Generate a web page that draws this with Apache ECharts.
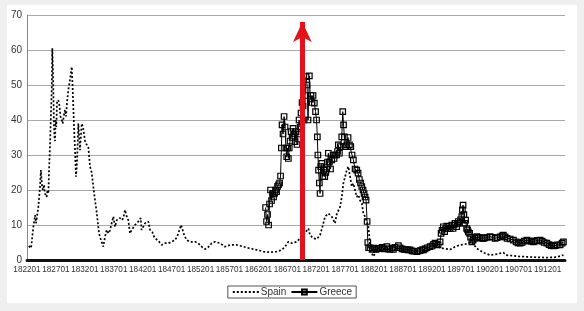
<!DOCTYPE html>
<html>
<head>
<meta charset="utf-8">
<script src="https://cdn.jsdelivr.net/npm/echarts@6/dist/echarts.min.js"></script>
<style>
html,body{margin:0;padding:0;background:#efefef;width:584px;height:311px;overflow:hidden;}
#panel{position:absolute;left:7px;top:5px;width:570px;height:298px;background:#fff;}
#chart{position:absolute;left:0;top:0;width:584px;height:311px;}
</style>
</head>
<body>
<div id="panel"></div>
<div id="chart"></div>
<script>
// ---- data ----
const startYear = 1822;
const endYear = 1915;
const tickYears = 5;

const spainYears = [1822.3,1822.7,1823.1,1823.4,1823.55,1823.7,1823.95,1824.25,1824.4,1824.6,1824.75,1824.95,1825.1,1825.4,1825.55,1825.7,1825.8,1826.0,1826.15,1826.27,1826.37,1826.5,1826.58,1826.67,1826.75,1826.84,1826.96,1827.07,1827.19,1827.41,1827.62,1827.79,1828.0,1828.17,1828.4,1828.57,1828.74,1828.92,1829.14,1829.43,1829.73,1829.87,1830.0,1830.16,1830.3,1830.47,1830.65,1830.87,1830.99,1831.16,1831.34,1831.46,1831.68,1832.03,1832.29,1832.6,1832.89,1833.19,1833.46,1833.76,1834.02,1834.22,1834.45,1834.79,1834.97,1835.19,1835.49,1835.78,1836.09,1836.35,1836.64,1836.92,1837.22,1837.51,1837.79,1838.08,1838.43,1838.65,1838.94,1839.08,1839.24,1839.51,1839.81,1840.1,1840.38,1840.67,1840.97,1841.24,1841.66,1841.8,1842.11,1842.4,1842.7,1842.97,1843.27,1843.66,1843.87,1844.13,1844.43,1844.7,1845.0,1845.29,1845.57,1845.86,1846.43,1847.02,1847.59,1847.88,1848.16,1848.42,1848.63,1848.89,1849.2,1849.61,1850.18,1851.05,1851.57,1852.21,1852.78,1853.29,1853.93,1854.51,1855.37,1856.23,1857.1,1858.26,1859.4,1860.56,1861.72,1862.86,1864.01,1865.17,1866.04,1866.61,1867.18,1867.77,1868.63,1869.2,1869.77,1870.07,1870.64,1870.93,1871.5,1872.09,1872.66,1873.23,1873.52,1874.09,1874.39,1874.68,1874.96,1875.25,1875.51,1875.82,1876.12,1876.41,1876.69,1876.98,1877.28,1877.55,1877.85,1878.14,1878.42,1878.71,1879.0,1879.28,1879.58,1879.87,1880.15,1880.44,1880.73,1881.01,1881.18,1881.3,1881.6,1881.87,1882.17,1882.46,1882.74,1883.55,1884.76,1886.49,1888.22,1889.95,1891.68,1892.84,1893.98,1895.14,1896.0,1896.87,1897.73,1898.89,1899.75,1900.9,1902.05,1903.21,1904.35,1904.82,1907.24,1909.54,1911.86,1913.46,1914.73];
const spainValues = [4.0,3.4,9.5,12.8,10.5,12,15,21,25.7,21,20,21.5,19,18,20,19,25,34,42,48.6,60.5,54,46,38,35,34,40,38,45,45.7,44,41,40,39,41.5,42.9,41,45,48.6,51.4,55.2,50,43.8,37,31.4,23.8,28,39,36,31.4,36,39,38,34,33,32.4,26.7,25,21,17,14,11,7.6,5.7,6,3.8,6.7,8.6,7.6,8.5,10.5,12.4,9.5,11.4,11,12,11.4,12,14.3,14.8,12.4,11.4,7.6,8.6,9,10,10.5,11,12,8.6,9.5,10.5,10,11,8.6,8,7,6.2,5.7,5.5,5,4.3,4.6,4.8,4.8,5.2,5.7,6.5,7.6,9,10,9.5,7,5.7,5.2,5.2,4.8,3.8,3.1,3.6,4.8,5.2,4.8,3.8,4.3,4.3,3.8,3.3,2.9,2.4,2.2,2.4,2.9,3.8,5.2,4.8,5.2,6.2,7.1,7.6,9,7.1,6.2,6,7.1,10.5,12.4,13.3,13.8,12.4,12.9,10.5,12.9,12.9,15.2,18,21.9,21.9,25.7,26.7,23.8,21,21.9,20,18,18.6,17,16.2,13.3,12.4,11,9.5,6.7,2.9,1.9,1.0,1.9,2.4,2.9,3.0,2.8,3.0,2.8,2.6,3.2,3.8,3.3,3.0,3.8,4.3,4.5,5.2,3.3,2.1,1.4,1.7,2.1,1.4,1.0,0.8,0.7,0.8,1.4];

const greeceYears = [1863.24,1863.41,1863.58,1863.76,1863.93,1864.1,1864.27,1864.45,1864.62,1864.79,1864.97,1865.14,1865.31,1865.48,1865.66,1865.83,1865.97,1866.09,1866.26,1866.44,1866.61,1866.75,1866.9,1867.04,1867.18,1867.33,1867.47,1867.65,1867.82,1867.99,1868.16,1868.34,1868.51,1868.68,1868.86,1869.03,1869.2,1869.37,1869.55,1869.72,1869.89,1870.07,1870.24,1870.41,1870.58,1870.81,1870.98,1871.1,1871.28,1871.45,1871.67,1871.88,1872.05,1872.19,1872.28,1872.4,1872.54,1872.66,1872.78,1872.95,1873.13,1873.3,1873.47,1873.65,1873.82,1873.96,1874.09,1874.27,1874.47,1874.68,1874.91,1875.08,1875.25,1875.51,1875.68,1875.82,1876.0,1876.17,1876.41,1876.58,1876.72,1876.86,1877.03,1877.28,1877.5,1877.73,1877.97,1878.19,1878.42,1878.71,1879.0,1879.23,1879.45,1879.66,1879.87,1880.09,1880.27,1880.44,1880.61,1880.79,1880.91,1881.05,1881.3,1881.65,1881.99,1882.34,1882.69,1883.03,1883.38,1883.73,1884.19,1884.42,1884.76,1885.11,1885.33,1885.63,1886.2,1886.49,1886.84,1887.18,1887.53,1887.87,1888.22,1888.57,1888.91,1889.38,1889.6,1889.95,1890.3,1890.52,1890.81,1891.16,1891.68,1892.02,1892.28,1892.54,1892.8,1893.06,1893.41,1893.58,1893.75,1893.98,1894.19,1894.36,1894.57,1894.79,1894.96,1895.14,1895.43,1895.65,1895.83,1896.0,1896.26,1896.43,1896.57,1896.75,1896.95,1897.16,1897.26,1897.38,1897.52,1897.64,1897.82,1897.99,1898.16,1898.3,1898.51,1898.68,1898.89,1899.11,1899.46,1899.75,1899.98,1900.32,1900.67,1900.9,1901.19,1901.53,1902.05,1902.4,1902.92,1903.26,1903.78,1904.13,1904.35,1904.65,1904.99,1905.51,1906.08,1906.55,1906.89,1907.24,1907.59,1907.93,1908.4,1908.8,1909.14,1909.54,1909.83,1910.18,1910.7,1911.05,1911.39,1911.86,1912.25,1912.6,1913.0,1913.29,1913.64,1914.16,1914.5,1914.73];
const greeceValues = [15,11,13,10,16,20,17,19,18,19,20,19.5,21,21.5,22,24,32,38.6,36,41,38,32,29.5,32,29,32,34,36.7,35,37.6,36,33.8,36.7,33,36,40,38,42,45,44,40,47,52.4,50,40,52.6,46,47,45,47,44.8,42.4,40,35.2,30,25.7,22,19,26.7,27.6,23.8,25.7,23.8,25,26,28,30.5,28,26,28.6,30,29,30,30,31,32.9,30.5,32.4,35.2,42.4,38.6,35.2,32.4,32.9,35,32.9,32.4,30,28.6,26,25.7,24.8,23,22,21,20,19,18,17.1,11,5,3.5,3.5,3.0,3.4,3.0,3.3,3.3,3.6,3.2,3.8,3.2,3.0,3.4,3.0,3.6,4.1,3.5,3.2,3.0,3.0,2.9,2.9,2.6,2.5,2.4,2.5,2.7,2.9,2.9,3.2,3.5,3.8,4.0,4.5,4.8,4.5,4.3,5.2,7.6,8.5,9.5,8.1,9.0,9.7,9.0,9.5,9.0,10,9,10,10.5,9.5,10.5,11,10.5,11.5,12.4,14.3,15.7,13,10.5,11.4,9,8.6,8.0,7.6,6.5,5.2,5.7,6.2,6.7,6.5,6.4,6.2,6.2,6.3,6.5,6.7,6.5,6.2,6.4,6.6,6.9,7.1,6.6,6.2,6.0,5.7,5.2,4.9,4.8,5.0,5.4,5.7,5.5,5.3,5.2,5.4,5.6,5.7,5.4,5.0,4.8,4.4,4.1,4.0,4.1,4.3,4.3,4.8,5.2];

const arrowYear = 1869.6;
const arrowFrom = 0;
const arrowTo = 68;

// ---- build ----
const toMonth = y => (y - startYear) * 12;
const spainData = spainYears.map((y, i) => [toMonth(y), spainValues[i]]);
const greeceData = greeceYears.map((y, i) => [toMonth(y), greeceValues[i]]);

const chart = echarts.init(document.getElementById('chart'), null, {renderer: 'canvas'});
const font = 'Liberation Sans, Arial, sans-serif';
chart.setOption({
  backgroundColor: 'transparent',
  animation: false,
  grid: {left: 27, right: 19, top: 15, bottom: 51},
  legend: {
    bottom: 13, left: 'center',
    data: [{name: 'Spain', itemStyle: {opacity: 0}}, {name: 'Greece'}],
    itemWidth: 26, itemHeight: 6, itemGap: 4,
    padding: [1, 4, 1, 4],
    borderColor: '#555', borderWidth: 1,
    textStyle: {fontSize: 10, color: '#333', fontFamily: font, padding: [0, 0, 0, -3]}
  },
  xAxis: {
    type: 'value', min: 0, max: toMonth(endYear), interval: tickYears * 12,
    axisLine: {show: true, lineStyle: {color: '#111', width: 3, type: [2, 1]}},
    axisTick: {show: false},
    splitLine: {show: false},
    axisLabel: {
      showMinLabel: true, showMaxLabel: false, hideOverlap: false,
      fontSize: 8.2, color: '#333', fontFamily: font, margin: 6,
      formatter: v => String(Math.round(startYear + v / 12)) + '01'
    }
  },
  yAxis: {
    type: 'value', min: 0, max: 70, interval: 10,
    axisLine: {show: true, lineStyle: {color: '#888', width: 1}},
    axisTick: {show: false},
    splitLine: {lineStyle: {color: '#a8a8a8', width: 1}},
    axisLabel: {fontSize: 10, color: '#333', fontFamily: font, margin: 5}
  },
  series: [
    {
      name: 'Spain', type: 'line', data: spainData,
      showSymbol: false, symbol: 'none',
      lineStyle: {color: '#000', width: 1.7, type: [2, 2]},
      itemStyle: {color: '#000'},
      z: 3,
      markLine: {
        silent: true, animation: false,
        symbol: ['none', 'arrow'], symbolSize: [14, 20],
        label: {show: false},
        lineStyle: {color: '#e3121b', width: 5, type: 'solid'},
        data: [[{coord: [toMonth(arrowYear), arrowFrom]}, {coord: [toMonth(arrowYear), arrowTo]}]]
      }
    },
    {
      name: 'Greece', type: 'line', data: greeceData,
      symbol: 'rect', symbolSize: 5.5, showSymbol: true, showAllSymbol: true,
      lineStyle: {color: '#000', width: 1},
      itemStyle: {color: 'rgba(255,255,255,0)', borderColor: '#000', borderWidth: 1.2},
      z: 2
    }
  ]
});
</script>
</body>
</html>
